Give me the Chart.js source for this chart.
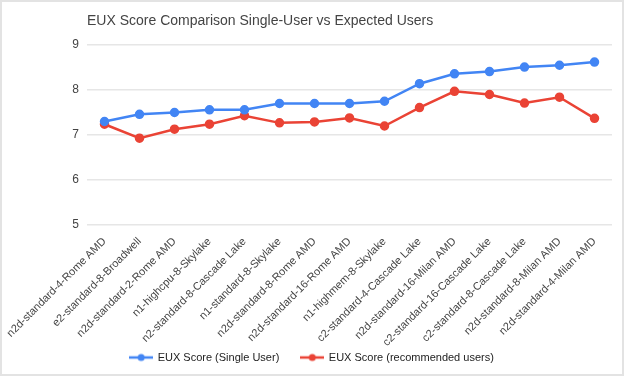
<!DOCTYPE html>
<html>
<head>
<meta charset="utf-8">
<script src="https://cdn.jsdelivr.net/npm/chart.js@4/dist/chart.umd.min.js"></script>
<style>
  html, body { margin: 0; padding: 0; background: #fff; }
  #frame {
    width: 624px; height: 376px; box-sizing: border-box;
    border: 2px solid #e3e3e3; position: relative; background: #fff;
  }
  #wrap { position: absolute; left: 0; top: 0; width: 620px; height: 372px; }
</style>
</head>
<body>
<div id="frame"><div id="wrap"><canvas id="chart"></canvas></div></div>
<script>
// chart data
var machines = [
  'n2d-standard-4-Rome AMD',
  'e2-standard-8-Broadwell',
  'n2d-standard-2-Rome AMD',
  'n1-highcpu-8-Skylake',
  'n2-standard-8-Cascade Lake',
  'n1-standard-8-Skylake',
  'n2d-standard-8-Rome AMD',
  'n2d-standard-16-Rome AMD',
  'n1-highmem-8-Skylake',
  'c2-standard-4-Cascade Lake',
  'n2d-standard-16-Milan AMD',
  'c2-standard-16-Cascade Lake',
  'c2-standard-8-Cascade Lake',
  'n2d-standard-8-Milan AMD',
  'n2d-standard-4-Milan AMD'
];
var singleUser = [7.3, 7.46, 7.5, 7.56, 7.56, 7.7, 7.7, 7.7, 7.75, 8.14, 8.36, 8.41, 8.51, 8.55, 8.62];
var recommendedUsers = [7.24, 6.93, 7.13, 7.24, 7.43, 7.27, 7.29, 7.38, 7.2, 7.61, 7.97, 7.9, 7.71, 7.84, 7.37];
var yTicks = [5, 6, 7, 8, 9];

var BLUE = '#4285f4';
var RED = '#ea4335';
var TITLE = 'EUX Score Comparison Single-User vs Expected Users';
var FONT = '"Liberation Sans", Arial, sans-serif';
var LEGEND_GAP = 22;

// legend marker: short line with a dot in the middle
function legendMarker(color) {
  var c = document.createElement('canvas');
  c.width = 24; c.height = 10;
  var g = c.getContext('2d');
  g.strokeStyle = color; g.lineWidth = 2.5;
  g.beginPath(); g.moveTo(0, 5); g.lineTo(24, 5); g.stroke();
  g.fillStyle = color;
  g.beginPath(); g.arc(12, 5, 3.5, 0, Math.PI * 2); g.fill();
  return c;
}
var markers = [legendMarker(BLUE), legendMarker(RED)];

var titlePlugin = {
  id: 'leftTitle',
  afterDraw: function (chart) {
    var ctx = chart.ctx;
    ctx.save();
    ctx.font = '14px ' + FONT;
    ctx.fillStyle = '#444';
    ctx.textBaseline = 'middle';
    ctx.textAlign = 'left';
    ctx.fillText(TITLE, chart.chartArea.left, 19);
    ctx.restore();
  }
};

// keep the legend short but its items spaced wide apart
var legendPatch = {
  id: 'legendPatch',
  beforeInit: function (chart) {
    var lg = chart.legend;
    var fit = lg.fit, draw = lg.draw;
    lg.fit = function () { fit.apply(this, arguments); this.height = 23; };
    lg.draw = function () {
      var top = this.top, bottom = this.bottom;
      var dy = (chart.height - 22) - (top + LEGEND_GAP);
      this.top = top + dy;
      this.bottom = chart.height;
      draw.apply(this, arguments);
      this.top = top;
      this.bottom = bottom;
    };
  }
};

var ctx = document.getElementById('chart').getContext('2d');
new Chart(ctx, {
  type: 'line',
  data: {
    labels: machines,
    datasets: [
      {
        label: 'EUX Score (Single User)',
        data: singleUser,
        borderColor: BLUE,
        backgroundColor: BLUE,
        borderWidth: 2.5,
        pointRadius: 3.5,
        tension: 0
      },
      {
        label: 'EUX Score (recommended users)',
        data: recommendedUsers,
        borderColor: RED,
        backgroundColor: RED,
        borderWidth: 2.5,
        pointRadius: 3.5,
        tension: 0
      }
    ]
  },
  options: {
    responsive: true,
    maintainAspectRatio: false,
    animation: false,
    layout: { padding: { top: 43, right: 10, left: 10, bottom: 0 } },
    elements: { point: { pointStyle: 'circle', borderWidth: 0 } },
    plugins: {
      title: { display: false },
      tooltip: { enabled: false },
      legend: {
        position: 'bottom',
        labels: {
          usePointStyle: true,
          pointStyleWidth: 22,
          color: '#222',
          font: { family: FONT, size: 11 },
          padding: LEGEND_GAP,
          generateLabels: function (chart) {
            var items = Chart.defaults.plugins.legend.labels.generateLabels(chart);
            items.forEach(function (it, i) { it.pointStyle = markers[i]; });
            return items;
          }
        }
      }
    },
    scales: {
      x: {
        offset: true,
        grid: { display: false },
        border: { display: false },
        ticks: {
          color: '#444',
          padding: 2,
          font: { family: FONT, size: 11 },
          minRotation: 45,
          maxRotation: 45,
          autoSkip: false
        }
      },
      y: {
        min: 5,
        max: 9,
        afterFit: function (axis) { axis.width = 75; },
        afterBuildTicks: function (axis) {
          axis.ticks = yTicks.map(function (v) { return { value: v }; });
        },
        grid: { color: '#e6e6e6', lineWidth: 1.5, drawTicks: false },
        border: { display: false },
        ticks: {
          color: '#444',
          padding: 8,
          font: { family: FONT, size: 12 }
        }
      }
    }
  },
  plugins: [titlePlugin, legendPatch]
});
</script>
</body>
</html>
